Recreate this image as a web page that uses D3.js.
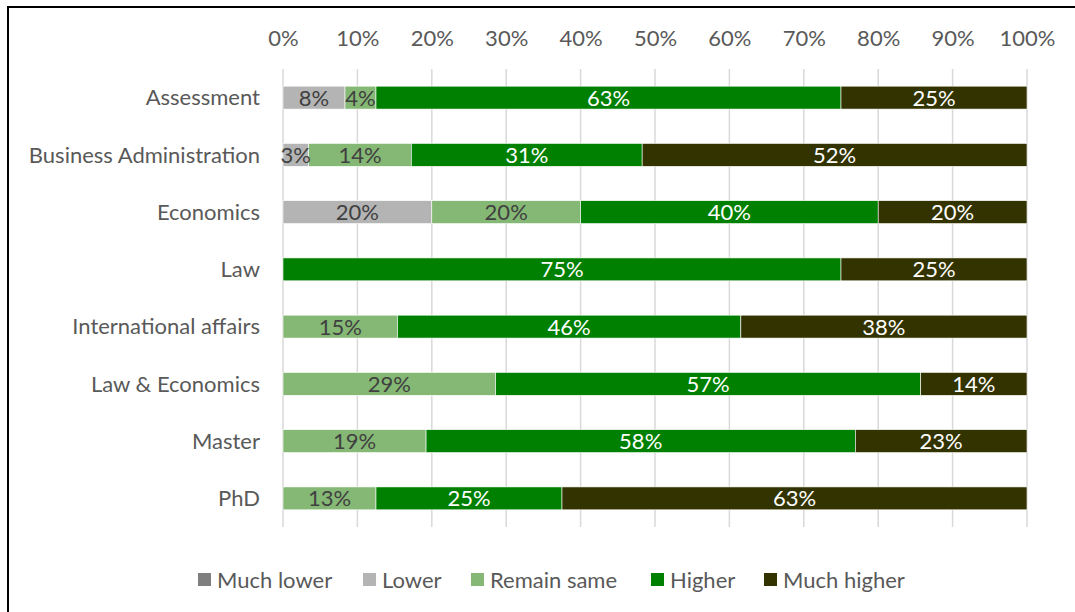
<!DOCTYPE html>
<html>
<head>
<meta charset="utf-8">
<script src="https://cdn.jsdelivr.net/npm/d3@7"></script>
<style>
  html, body { margin: 0; padding: 0; background: #fff; }
  svg { display: block; }
  text { font-family: Lato, "Open Sans", sans-serif; }
</style>
</head>
<body>
<svg id="chart" width="1075" height="612"></svg>
<script>
// Survey programmes (top to bottom)
const categories = [
  "Assessment", "Business Administration", "Economics", "Law",
  "International affairs", "Law & Economics", "Master", "PhD"
];
// Response categories, stacked left to right
const seriesNames = ["Much lower", "Lower", "Remain same", "Higher", "Much higher"];
const seriesColors = ["#7f7f7f", "#b4b4b4", "#85b875", "#008000", "#333300"];
const labelColors  = ["#404040", "#404040", "#404040", "#ffffff", "#ffffff"];

// Share of respondents per answer (fractions of each row)
const muchLower   = [0, 0, 0, 0, 0, 0, 0, 0];
const lower       = [1/12, 1/29, 0.20, 0, 0, 0, 0, 0];
const remainSame  = [1/24, 4/29, 0.20, 0, 2/13, 2/7, 5/26, 1/8];
const higher      = [15/24, 9/29, 0.40, 0.75, 6/13, 4/7, 15/26, 2/8];
const muchHigher  = [6/24, 15/29, 0.20, 0.25, 5/13, 1/7, 6/26, 5/8];

const tickValues = [0, 0.1, 0.2, 0.3, 0.4, 0.5, 0.6, 0.7, 0.8, 0.9, 1.0];

const seriesValues = [muchLower, lower, remainSame, higher, muchHigher];
const rows = categories.map((c, i) => {
  const r = { category: c };
  seriesNames.forEach((s, k) => { r[s] = seriesValues[k][i]; });
  return r;
});

const svg = d3.select("#chart");
const pct = d3.format(".0%");
const fontSize = 22;

// Chart frame
svg.append("rect")
  .attr("x", 8).attr("y", 7)
  .attr("width", 1080).attr("height", 620)
  .attr("fill", "none").attr("stroke", "#000").attr("stroke-width", 2);

const x = d3.scaleLinear().domain([0, 1]).range([283, 1027]);
const y = d3.scaleBand().domain(categories).range([69, 527])
  .paddingInner(0.6).paddingOuter(0.3);

// Vertical gridlines
svg.append("g").selectAll("line").data(tickValues).join("line")
  .attr("x1", d => x(d)).attr("x2", d => x(d))
  .attr("y1", 69).attr("y2", 527)
  .attr("stroke", "#d9d9d9").attr("stroke-width", 1.5);

// Top axis labels
const axis = svg.append("g").attr("transform", "translate(0,46)")
  .call(d3.axisTop(x).tickValues(tickValues).tickFormat(pct).tickSize(0).tickPadding(0));
axis.select(".domain").remove();
axis.selectAll("text")
  .attr("fill", "#595959").attr("font-size", fontSize)
  .style("font-family", "Lato, 'Open Sans', sans-serif");

// Category labels
svg.append("g").selectAll("text").data(categories).join("text")
  .attr("x", 260).attr("y", d => y(d) + y.bandwidth() / 2)
  .attr("dy", "0.35em").attr("text-anchor", "end")
  .attr("fill", "#595959").attr("font-size", fontSize)
  .text(d => d);

// Stacked bars
const stack = d3.stack().keys(seriesNames)(rows);
const layers = svg.append("g").selectAll("g").data(stack).join("g")
  .attr("fill", (d, k) => seriesColors[k]);

layers.selectAll("rect").data(d => d).join("rect")
  .attr("x", d => x(d[0]))
  .attr("y", d => y(d.data.category))
  .attr("width", d => Math.max(0, x(d[1]) - x(d[0])))
  .attr("height", y.bandwidth())
  .attr("stroke", "#fff").attr("stroke-width", 0.6);

// Value labels centered in each segment
stack.forEach((layer, k) => {
  svg.append("g").selectAll("text")
    .data(layer.filter(d => d[1] - d[0] > 0))
    .join("text")
    .attr("x", d => x((d[0] + d[1]) / 2))
    .attr("y", d => y(d.data.category) + y.bandwidth() / 2)
    .attr("dy", "0.36em").attr("text-anchor", "middle")
    .attr("fill", labelColors[k]).attr("font-size", fontSize)
    .text(d => pct(d[1] - d[0]));
});

// Legend
const legendX = [198, 363, 471, 651, 764];
const legend = svg.append("g").selectAll("g").data(seriesNames).join("g")
  .attr("transform", (d, k) => `translate(${legendX[k]},573)`);
legend.append("rect")
  .attr("width", 13).attr("height", 13)
  .attr("fill", (d, k) => seriesColors[k]);
legend.append("text")
  .attr("x", 19).attr("y", 7).attr("dy", "0.35em")
  .attr("fill", "#595959").attr("font-size", fontSize)
  .text(d => d);
</script>
</body>
</html>
